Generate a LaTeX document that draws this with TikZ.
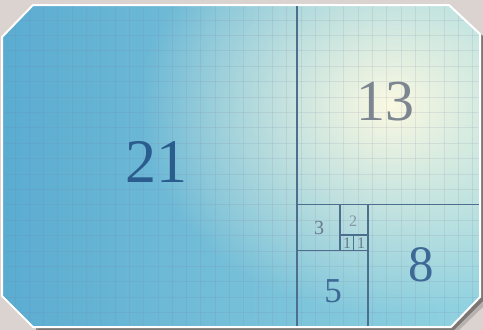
\documentclass[tikz,border=0pt]{standalone}
\usepackage{fontspec}
\setmainfont{Liberation Serif}
\usetikzlibrary{fadings}
\tikzfading[name=glowfade, inner color=transparent!0, outer color=transparent!100]
\definecolor{outerbg}{HTML}{DAD3D0}
\definecolor{shadowc}{HTML}{55514F}
\definecolor{leftblue}{HTML}{5AACD1}
\definecolor{rightblue}{HTML}{92D3E0}
\definecolor{glowc}{HTML}{FBF9E2}
\definecolor{sqline}{HTML}{4D6E8C}
\definecolor{cbig}{HTML}{2A5C8E}
\definecolor{cgray}{HTML}{7C8590}
\definecolor{cmid}{HTML}{3D6997}
\definecolor{csmall}{HTML}{6A7A8C}
\definecolor{gridc}{HTML}{7E7AA0}
\begin{document}
\begin{tikzpicture}[x=1pt,y=-1pt,
  gridline/.style={draw=gridc, opacity=0.14, line width=1pt},
  divline/.style={draw=sqline, line width=1.3pt},
  numlabel/.style={inner sep=0pt, anchor=center}]
\useasboundingbox (0,0) rectangle (483,330);
\fill[outerbg] (0,0) rectangle (483,330);
% shadow
\fill[shadowc, opacity=0.25] (39,10) -- (455,10) -- (487,40) -- (487,303) -- (456,333) -- (39,333) -- cycle;
\fill[shadowc, opacity=0.6] (36,8) -- (452,8) -- (484,37) -- (484,300) -- (454,330) -- (36,330) -- cycle;
% panel
\shade[left color=leftblue, right color=rightblue]
  (33,5) -- (449,5) -- (480,34) -- (480,297) -- (451,327) -- (33,327) -- (2,296) -- (2,37) -- cycle;
\begin{scope}
  \clip (33,5) -- (449,5) -- (480,34) -- (480,297) -- (451,327) -- (33,327) -- (2,296) -- (2,37) -- cycle;
  \fill[glowc, path fading=glowfade] (390,105) ellipse (250 and 210);
  \foreach \i in {0,...,33} \draw[gridline] ({0.7+14.3*\i},5) -- ++(0,322);
  \foreach \j in {0,...,21} \draw[gridline] (2,{4.6+15.4*\j}) -- ++(478,0);
\end{scope}
\draw[white, line width=2pt, line join=miter]
  (33,5) -- (449,5) -- (480,34) -- (480,297) -- (451,327) -- (33,327) -- (2,296) -- (2,37) -- cycle;
% square corners
\coordinate (vTop) at (297,6);
\coordinate (vBot) at (297,326);
\coordinate (hL) at (297,204.5);
\coordinate (hR) at (479,204.5);
\coordinate (tL) at (297,250.5);
\coordinate (tR) at (368,250.5);
\coordinate (eTop) at (368,204.5);
\coordinate (eBot) at (368,326);
\coordinate (twoTop) at (340,204.5);
\coordinate (twoBot) at (340,250.5);
\coordinate (oneL) at (340,235);
\coordinate (oneR) at (368,235);
\coordinate (oneTop) at (353.5,235);
\coordinate (oneBot) at (353.5,250.5);
\draw[divline] (vTop) -- (vBot);
\draw[divline] (hL) -- (hR);
\draw[divline] (tL) -- (tR);
\draw[divline] (eTop) -- (eBot);
\draw[divline] (twoTop) -- (twoBot);
\draw[divline, line width=1.1pt] (oneL) -- (oneR);
\draw[divline, line width=1.1pt] (oneTop) -- (oneBot);
% labels
\node[numlabel, text=cbig, font=\fontsize{62}{62}\selectfont] (n21) at (156,162) {21};
\node[numlabel, text=cgray, font=\fontsize{58}{58}\selectfont] (n13) at (385,102) {13};
\node[numlabel, text=cmid, font=\fontsize{51}{51}\selectfont] (n8) at (421,265) {8};
\node[numlabel, text=cmid, font=\fontsize{35}{35}\selectfont] (n5) at (333,291) {5};
\node[numlabel, text=csmall, font=\fontsize{20}{20}\selectfont] (n3) at (319,228) {3};
\node[numlabel, text=csmall!80, font=\fontsize{16}{16}\selectfont] (n2) at (353,221) {2};
\node[numlabel, text=csmall, font=\fontsize{16}{16}\selectfont] (n1a) at (347,243) {1};
\node[numlabel, text=csmall, font=\fontsize{16}{16}\selectfont] (n1b) at (361,243) {1};
\end{tikzpicture}
\end{document}
